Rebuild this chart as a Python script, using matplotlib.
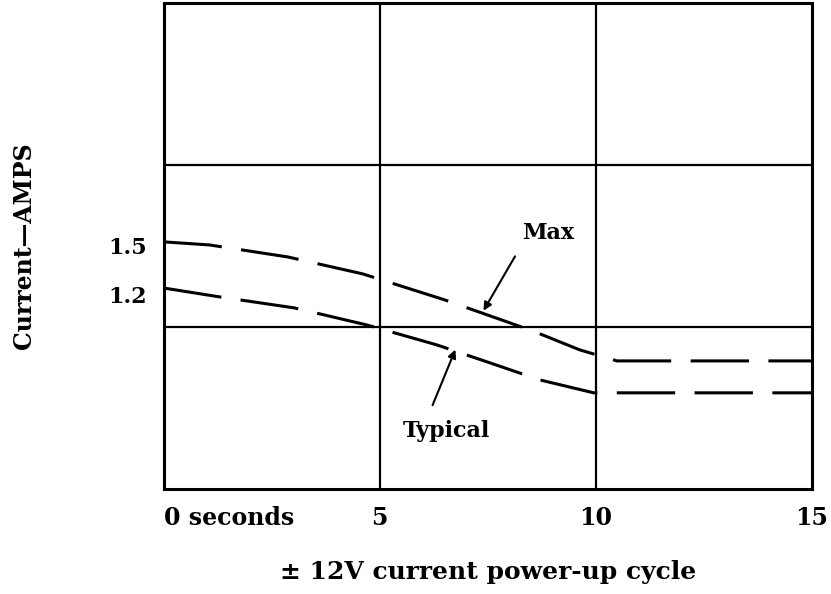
import matplotlib.pyplot as plt
from matplotlib.transforms import ScaledTranslation

plt.rcParams['lines.scale_dashes'] = False
plt.rcParams['font.family'] = 'DejaVu Serif'

# seconds after power-up vs current (plotted in grid units)
max_t = [0, 1.06, 2.87, 4.61, 6.5, 8.54, 9.63, 10.49, 15]
max_i = [1.525, 1.506, 1.432, 1.327, 1.167, 0.975, 0.858, 0.79, 0.79]
typ_t = [0, 1.30, 3.03, 4.70, 6.32, 7.55, 8.70, 9.95, 15]
typ_i = [1.24, 1.185, 1.117, 1.012, 0.889, 0.778, 0.673, 0.593, 0.593]

x_ticks = [0, 5, 10, 15]
x_labels = ['0 seconds', '5', '10', '15']
y_ticks = [1.5, 1.2]
y_labels = ['1.5', '1.2']
grid_x = [5, 10]
grid_y = [1, 2]

fig = plt.figure(figsize=(8.31, 5.94), dpi=100)
ax = fig.add_axes([0.197, 0.177, 0.78, 0.818])

ax.plot(max_t, max_i, color='black', lw=2.2, dashes=(42, 14), solid_capstyle='butt')
ax.plot(typ_t, typ_i, color='black', lw=2.2, dashes=(42, 14), solid_capstyle='butt')

for gx in grid_x:
    ax.axvline(gx, color='black', lw=1.6)
for gy in grid_y:
    ax.axhline(gy, color='black', lw=1.6)

ax.set_xlim(0, 15)
ax.set_ylim(0, 3)
for s in ax.spines.values():
    s.set_linewidth(2.2)

ax.set_xticks(x_ticks)
ax.set_xticklabels(x_labels, fontsize=17, fontweight='bold')
first = ax.get_xticklabels()[0]
first.set_ha('left')
first.set_transform(first.get_transform() + ScaledTranslation(-0.07, 0, fig.dpi_scale_trans))
ax.set_yticks(y_ticks)
ax.set_yticklabels(y_labels, fontsize=16, fontweight='bold')
ax.tick_params(length=0, pad=12)

ax.set_xlabel('± 12V current power-up cycle', fontsize=18, fontweight='bold', labelpad=22)
ax.set_ylabel('Current\u2014AMPS', fontsize=17, fontweight='bold', labelpad=52)

ax.annotate('Max', xy=(7.4, 1.1), xytext=(8.9, 1.58), fontsize=16, fontweight='bold',
            ha='center', va='center',
            arrowprops=dict(arrowstyle='-|>', color='black', lw=1.5, relpos=(0.0, 0.0),
                            shrinkA=8, shrinkB=0, mutation_scale=12))
ax.annotate('Typical', xy=(6.75, 0.86), xytext=(6.55, 0.36), fontsize=16, fontweight='bold',
            ha='center', va='center',
            arrowprops=dict(arrowstyle='-|>', color='black', lw=1.5, relpos=(0.27, 1.0),
                            shrinkA=9, shrinkB=0, mutation_scale=12))

plt.savefig('out.png', dpi=100)
